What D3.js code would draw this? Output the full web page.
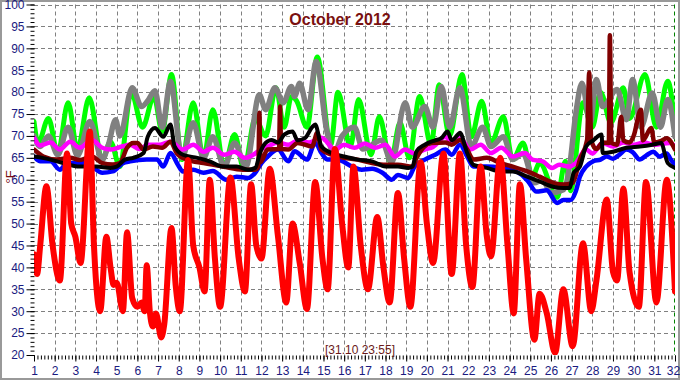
<!DOCTYPE html>
<html>
<head>
<meta charset="utf-8">
<script src="https://cdn.jsdelivr.net/npm/d3@7"></script>
<style>
  body { margin: 0; background: #fff; }
  svg { display: block; font-family: Arial, "Liberation Sans", sans-serif; }
</style>
</head>
<body>
<svg id="chart" width="680" height="380"></svg>
<script>
// [day of month, °F] readings
var outdoor = [[1.0,43],[1.15,38.5],[1.3,45],[1.6,58.5],[1.9,45],[2.25,37],[2.6,66],[2.8,50],[3.0,47],[3.25,41],[3.7,71],[3.9,45],[4.2,30],[4.5,47],[4.7,40],[4.85,36],[5.0,36.5],[5.3,30],[5.5,48],[5.75,33],[6.0,31],[6.2,32],[6.35,30],[6.45,40.5],[6.6,30],[6.75,26.5],[6.9,29.5],[7.15,24],[7.3,27],[7.65,49],[7.85,36],[8.05,30],[8.45,64.5],[8.7,45],[9.0,40],[9.25,34.5],[9.5,60],[9.75,42],[10.0,31],[10.5,60.5],[10.9,42],[11.2,34.5],[11.5,59],[11.75,45],[12.0,42],[12.4,62.5],[12.8,47],[13.2,32],[13.5,50],[13.85,41],[14.2,30.5],[14.6,59.5],[14.95,42],[15.2,35],[15.55,67],[15.9,50],[16.2,40],[16.45,63],[16.8,45],[17.15,35],[17.6,51.5],[17.9,40],[18.2,32],[18.6,57],[18.9,42],[19.2,31],[19.7,64],[20.0,50],[20.3,41],[20.8,66],[21.2,38.5],[21.6,66],[21.9,45],[22.2,35.5],[22.6,63],[22.9,47],[23.1,42.5],[23.55,65],[23.9,45],[24.2,29.5],[24.5,59],[24.8,42],[25.2,23.5],[25.45,34],[25.8,29.5],[26.2,20.5],[26.6,35],[27.05,22],[27.55,45.5],[27.95,30],[28.2,37],[28.7,55.5],[29.0,39],[29.2,37],[29.5,58],[29.8,39],[30.25,31],[30.6,59.5],[31.1,32],[31.6,60],[32.0,34.5]];

var green = [[1.0,73.3],[1.2,68.4],[1.7,74],[2.15,66],[2.65,77.6],[3.1,66.9],[3.67,78.7],[4.3,64.6],[4.7,68.7],[5.15,63],[5.7,80],[6.25,72],[6.8,79],[7.2,71],[7.65,84],[8.15,64.6],[8.7,77.6],[9.2,65],[9.65,76],[10.2,63],[10.7,70.3],[11.15,62.5],[11.7,74],[12.2,70],[12.7,81],[13.1,72],[13.45,79],[13.7,78],[14.2,72],[14.7,88],[15.35,68],[15.7,80],[16.3,67.6],[16.7,78.3],[17.3,65.7],[17.7,74.4],[18.25,64],[18.7,73],[19.15,65],[19.65,79],[20.2,68],[20.6,81.7],[21.1,70],[21.7,84],[22.15,69.8],[22.65,77.9],[23.1,68.4],[23.7,74.4],[24.15,64.6],[24.65,68.4],[25.1,60.7],[25.45,63.8],[26.3,56],[26.7,64.2],[26.95,57.5],[27.55,77.6],[28.0,72],[28.4,80],[28.9,73],[29.5,81],[29.8,74],[30.55,84],[31.1,72],[31.65,82.5],[32.0,72]];

var gray = [[1.0,70],[1.3,67.6],[1.7,70],[2.15,65.7],[2.65,72],[3.1,65.5],[3.7,73.3],[4.3,64.6],[4.6,68],[4.95,73.7],[5.15,70],[5.75,81],[6.2,76.7],[6.5,78],[6.85,80.3],[7.2,72],[7.6,82.4],[8.15,65],[8.7,73],[9.2,65],[9.65,69.8],[10.2,63],[10.7,68.4],[11.25,63],[11.9,79.4],[12.2,76],[12.65,81],[13.05,77.6],[13.45,81.3],[13.6,79],[13.85,82],[14.25,76],[14.65,87],[15.15,71.4],[15.5,66],[15.9,70],[16.5,72],[16.9,67],[17.8,69],[18.3,64],[18.95,77.6],[19.3,72],[19.9,76.7],[20.3,72],[20.7,81.3],[21.1,72],[21.6,81],[22.15,67.6],[22.7,72],[23.1,67.6],[23.7,69.8],[24.15,64.6],[24.65,66],[25.2,59.3],[25.6,60],[26.0,57],[26.6,57.7],[26.9,63],[27.2,75],[27.5,82],[27.9,73],[28.2,82.9],[28.5,76.7],[29.2,80.6],[29.65,73.7],[29.95,82.9],[30.35,72],[30.9,79.8],[31.3,72],[31.65,78.3],[32.0,69.8]];

var magenta = [[1.0,69.5],[1.3,67.8],[1.8,68.5],[2.25,66.9],[2.75,68.7],[3.2,67.3],[3.8,69.1],[4.3,67.3],[4.7,66.9],[5.25,67.6],[5.65,68],[6.1,67],[6.5,68],[7.1,68],[7.6,68.7],[8.2,66.9],[8.7,68],[9.2,66.4],[9.65,67.3],[10.2,65.7],[10.7,66.4],[11.2,65],[11.6,65.7],[12.0,67],[12.3,67.6],[12.8,68.5],[13.3,68],[13.8,69],[14.3,68.5],[14.9,69.6],[15.55,66.9],[16.0,68],[16.5,67.3],[17.0,68.3],[17.5,67.3],[18.0,68],[18.45,65.3],[18.95,66.9],[19.4,66],[19.9,66.9],[20.3,67.5],[20.9,69.8],[21.2,68.5],[21.6,69.6],[22.1,66.9],[22.6,68],[23.1,66.1],[23.6,67.3],[24.15,65.3],[24.75,66.1],[25.1,64.6],[25.6,64.2],[26.05,62.7],[26.4,63.4],[26.9,63],[27.2,63.8],[27.7,66.9],[28.0,66],[28.5,68.4],[29.0,67.6],[29.5,68.5],[30.0,68],[30.5,68.5],[31.0,68],[31.75,68.4],[32.0,67.6]];

var blue = [[1.0,65.3],[1.3,64.2],[1.8,64.2],[2.25,62.3],[2.6,63.8],[3.4,63.8],[3.8,63],[4.3,61.6],[4.8,61.9],[5.3,63.8],[5.65,64.2],[6.45,64.6],[6.95,64.6],[7.25,63],[7.6,66.1],[7.95,63.5],[8.2,61.9],[8.7,62.3],[9.2,61.6],[9.65,62],[10.3,60],[10.8,60.7],[11.35,60.4],[11.7,61.6],[12.0,63.8],[12.3,65.3],[12.8,66.9],[13.3,64.2],[13.6,66.5],[14.2,64.6],[14.6,68.4],[14.9,66.1],[15.2,64.6],[15.65,64.6],[16.4,63],[16.85,62.3],[17.35,62.5],[17.85,61.6],[18.3,60],[18.6,61.1],[19.1,60.4],[19.4,63],[19.9,64.6],[20.4,65.7],[20.9,66.9],[21.2,65.7],[21.6,68],[21.95,65.3],[22.25,63],[22.9,63],[23.5,62.8],[24.0,62.3],[24.6,61.1],[24.9,59.6],[25.3,57.3],[25.8,57.6],[26.3,54.7],[26.6,55.4],[26.95,55.4],[27.2,57.3],[27.4,60.7],[27.7,63],[28.05,64.2],[28.4,64.6],[28.7,65.3],[29.0,64.8],[29.3,65.7],[29.65,66.9],[29.95,66.3],[30.3,64.6],[30.6,65.5],[30.95,66.4],[31.25,65.3],[31.6,66],[31.8,64.6],[32.0,63.4]];

var black = [[1.0,65.3],[1.8,64.6],[2.4,63.8],[3.2,63],[4.0,63],[4.7,62.7],[5.0,63],[5.4,64.6],[5.8,65],[6.3,66.1],[6.5,69.8],[6.85,71.8],[7.25,69.8],[7.6,72.6],[7.8,67.6],[8.2,65.7],[8.9,65],[9.5,64.2],[10.15,63],[10.8,63],[11.35,62.3],[11.7,62.7],[11.95,66.4],[12.2,68.4],[12.5,69.1],[12.8,68.5],[13.1,70.3],[13.5,71],[13.75,69],[14.1,69.5],[14.45,72],[14.6,72.6],[14.9,67.6],[15.4,66.1],[16.0,65.3],[16.65,64.6],[17.35,64.2],[18.0,63],[18.6,63],[19.1,62.7],[19.3,63],[19.5,66.5],[19.9,68],[20.4,69],[20.7,69.5],[21.0,71],[21.2,69],[21.5,70.3],[21.6,70.7],[21.95,66.1],[22.25,63.4],[22.9,62.7],[23.55,61.9],[24.15,61.9],[24.85,60.7],[25.45,59.6],[26.1,58.4],[26.6,58.1],[26.9,58.1],[27.1,61.6],[27.4,63],[27.7,67.6],[28.05,69],[28.45,70.3],[28.5,66.1],[29.0,66.4],[29.65,67.3],[30.3,67.6],[30.9,68],[31.35,68.4],[31.5,66],[31.65,63.8],[32.0,62.7]];

var maroon = [[1.0,66.9],[1.45,65.3],[2.1,64.6],[2.75,65],[3.2,64.5],[3.8,65.3],[4.3,63.8],[4.8,63.5],[5.15,63.8],[5.5,67.3],[5.8,68.4],[6.0,68.4],[6.3,66.9],[6.75,67.6],[7.2,67.3],[7.6,68.7],[7.9,66.1],[8.4,64.6],[9.2,63.8],[10.15,63],[11.1,62.3],[11.7,62.3],[11.85,63],[11.9,75.3],[11.95,64],[12.3,66.9],[12.85,67],[12.9,76.7],[12.95,67],[13.3,66.9],[13.75,68.4],[14.45,67.6],[14.7,70.7],[14.9,66.9],[15.4,65.7],[16.0,65],[16.65,64.6],[17.35,63.8],[18.0,63.4],[18.6,63.4],[19.3,63],[19.5,65],[20.2,68.4],[20.9,68.5],[21.2,68],[21.6,69.1],[21.95,66.9],[22.25,64.6],[22.9,65],[23.55,63.8],[24.15,63],[24.85,61.9],[25.45,60.7],[26.1,59.3],[26.6,58.9],[27.05,59.3],[27.4,64.6],[27.75,69.1],[27.85,84.5],[27.95,69],[28.2,67],[28.5,68.5],[28.8,68.4],[28.85,93],[28.92,68.4],[29.2,68],[29.4,74.4],[29.5,69],[29.8,68.5],[30.0,70],[30.35,76],[30.45,69],[30.85,71.8],[31.0,68.5],[31.3,68.8],[31.6,69.5],[32.0,66.9]];

var dayTicks = [1,2,3,4,5,6,7,8,9,10,11,12,13,14,15,16,17,18,19,20,21,22,23,24,25,26,27,28,29,30,31,32];
var tempTicks = [20,25,30,35,40,45,50,55,60,65,70,75,80,85,90,95,100];

var series = [
  { data: green,   color: "#00ff00", w: 5 },
  { data: gray,    color: "#808080", w: 5.5 },
  { data: magenta, color: "#ff00ff", w: 4.5 },
  { data: blue,    color: "#0000ff", w: 4.5 },
  { data: maroon,  color: "#800000", w: 4.5 },
  { data: black,   color: "#000000", w: 4 },
  { data: outdoor, color: "#ff0000", w: 6 }
];

var svg = d3.select("#chart");
var navy = "#1a1a80", darkRed = "#7a1010";

var x = d3.scaleLinear().domain([1, 32]).range([34, 675]);
var y = d3.scaleLinear().domain([20, 100]).range([355, 4.5]);

svg.append("rect").attr("x", 1).attr("y", 1).attr("width", 678).attr("height", 378)
  .attr("fill", "#fff").attr("stroke", "#999").attr("stroke-width", 2);

svg.append("clipPath").attr("id", "plot")
  .append("rect").attr("x", 34).attr("y", 4).attr("width", 641).attr("height", 351);

// grid
var grid = svg.append("g").attr("stroke", "#808080").attr("stroke-dasharray", "4,3").attr("stroke-width", 1);
grid.selectAll(".v").data(dayTicks.slice(1, -1)).enter().append("line")
  .attr("x1", function (d) { return Math.round(x(d)) + 0.5; })
  .attr("x2", function (d) { return Math.round(x(d)) + 0.5; })
  .attr("y1", y(100)).attr("y2", y(20));
grid.selectAll(".h").data(tempTicks.slice(1)).enter().append("line")
  .attr("y1", function (d) { return Math.round(y(d)) + 0.5; })
  .attr("y2", function (d) { return Math.round(y(d)) + 0.5; })
  .attr("x1", x(1)).attr("x2", x(32));

svg.append("line")
  .attr("x1", x(32) - 0.5).attr("x2", x(32) - 0.5).attr("y1", y(100)).attr("y2", y(20))
  .attr("stroke", "#008000").attr("stroke-dasharray", "4,3");

// lines
var line = d3.line()
  .curve(d3.curveMonotoneX)
  .x(function (d) { return x(d[0]); })
  .y(function (d) { return y(d[1]); });

svg.append("g").attr("clip-path", "url(#plot)")
  .selectAll("path").data(series).enter().append("path")
  .attr("d", function (s) { return line(s.data); })
  .attr("fill", "none")
  .attr("stroke", function (s) { return s.color; })
  .attr("stroke-width", function (s) { return s.w; })
  .attr("stroke-linejoin", "round")
  .attr("stroke-linecap", "round");

// axes
var minorY = d3.range(20, 101);
svg.append("g").attr("transform", "translate(34.5,0)")
  .call(d3.axisLeft(y).tickValues(minorY).tickSize(4).tickFormat(""))
  .call(function (g) { g.select(".domain").remove(); });
var yAxis = svg.append("g").attr("transform", "translate(34.5,0)")
  .call(d3.axisLeft(y).tickValues(tempTicks).tickSize(8).tickPadding(2));
yAxis.select(".domain").remove();
yAxis.selectAll("text").attr("fill", navy).style("font-size", "12px");

var minorX = d3.range(1, 32.01, 1 / 6);
svg.append("g").attr("transform", "translate(0,355.5)")
  .call(d3.axisBottom(x).tickValues(minorX).tickSize(4).tickFormat(""))
  .call(function (g) { g.select(".domain").remove(); });
var xAxis = svg.append("g").attr("transform", "translate(0,355.5)")
  .call(d3.axisBottom(x).tickValues(dayTicks).tickSize(6).tickPadding(5));
xAxis.select(".domain").remove();
xAxis.selectAll("text").attr("fill", navy).style("font-size", "12px");
// last label sits against the frame
xAxis.selectAll("text").filter(function (d) { return d === 32; }).attr("dx", "-2");

// texts
svg.append("text").attr("x", 340).attr("y", 25).attr("text-anchor", "middle")
  .attr("fill", darkRed).style("font-size", "16px").style("font-weight", "bold")
  .text("October 2012");

svg.append("text").attr("transform", "translate(15,177) rotate(-90)")
  .attr("text-anchor", "middle").attr("fill", darkRed).style("font-size", "13px")
  .text("°F");

svg.append("text").attr("x", 360).attr("y", 354).attr("text-anchor", "middle")
  .attr("fill", "#6b1a1a").style("font-size", "12px")
  .text("[31.10 23:55]");
</script>
</body>
</html>
